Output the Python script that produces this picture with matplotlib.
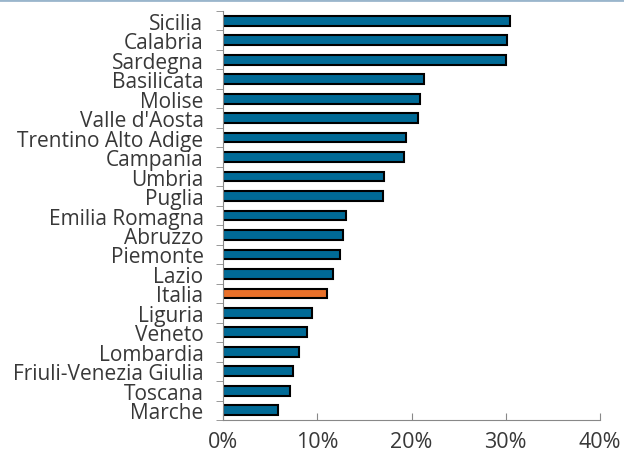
import matplotlib.pyplot as plt
import numpy as np
from matplotlib.lines import Line2D

regions = ["Sicilia", "Calabria", "Sardegna", "Basilicata", "Molise", "Valle d'Aosta",
           "Trentino Alto Adige", "Campania", "Umbria", "Puglia", "Emilia Romagna",
           "Abruzzo", "Piemonte", "Lazio", "Italia", "Liguria", "Veneto", "Lombardia",
           "Friuli-Venezia Giulia", "Toscana", "Marche"]
values = [30.4, 30.1, 30.0, 21.3, 20.9, 20.7, 19.4, 19.2, 17.1, 17.0, 13.0,
          12.7, 12.4, 11.7, 11.0, 9.4, 8.9, 8.1, 7.4, 7.1, 5.8]
xticks = [0, 10, 20, 30, 40]

plt.rcParams['font.family'] = ['Open Sans', 'DejaVu Sans']
text_color = '#383838'

fig = plt.figure(figsize=(6.24, 4.56), dpi=100)
ax = fig.add_axes([223/624, 35/456, 377/624, 409/456])

y = np.arange(len(regions))
colors = ['#e8702a' if r == 'Italia' else '#006a96' for r in regions]
ax.barh(y, values, height=0.5, color=colors, edgecolor='black', linewidth=1.5)

ax.set_ylim(len(regions) - 0.5, -0.5)
ax.set_xlim(0, 40)
ax.set_yticks(y)
ax.set_yticklabels(regions, fontsize=15, color=text_color)
ax.set_yticks(np.arange(-0.5, len(regions), 1), minor=True)
ax.tick_params(axis='y', which='major', length=0, pad=14)
ax.tick_params(axis='y', which='minor', length=5, color='#888888', direction='out')
ax.set_xticks(xticks)
ax.set_xticklabels([f'{t}%' for t in xticks], fontsize=15.5, color=text_color)
ax.tick_params(axis='x', length=5, color='#888888', direction='in', pad=8)

for s in ['top', 'right']:
    ax.spines[s].set_visible(False)
for s in ['left', 'bottom']:
    ax.spines[s].set_color('#888888')

fig.add_artist(Line2D([0, 1], [0.997, 0.997], color='#9ab6cc', linewidth=2, transform=fig.transFigure))

fig.savefig('out.png', dpi=100)
